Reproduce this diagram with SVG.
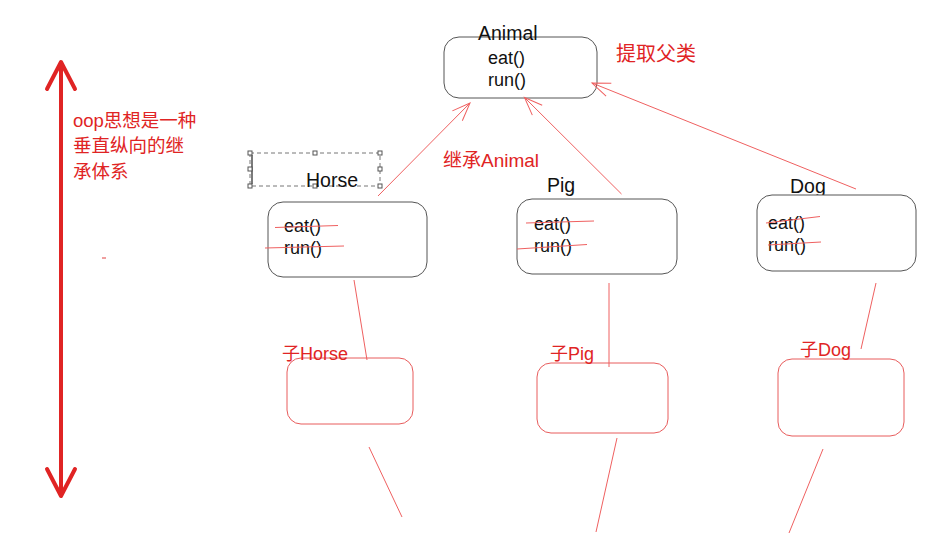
<svg xmlns="http://www.w3.org/2000/svg" width="950" height="555" viewBox="0 0 950 555">
<defs>
<marker id="open" markerUnits="userSpaceOnUse" markerWidth="24" markerHeight="20" refX="0" refY="0" viewBox="-20 -10 24 20" orient="auto" overflow="visible">
<path d="M-18,-7 L0,0 L-18,7" fill="none" stroke="#ef6060" stroke-width="1"/>
</marker>
<marker id="bigarrow" markerUnits="userSpaceOnUse" viewBox="-30 -20 34 40" markerWidth="34" markerHeight="40" refX="0" refY="0" orient="auto-start-reverse" overflow="visible">
<path d="M-27,-14 L0,0 L-27,14" fill="none" stroke="#e02424" stroke-width="4" stroke-linecap="round" stroke-linejoin="round"/>
</marker>
</defs>
<style>
.box{fill:#fff;stroke:#555;stroke-width:1}
.rbox{fill:#fff;stroke:#e85c5c;stroke-width:1}
.t{font-family:"Liberation Sans",Arial,sans-serif;fill:#111}
.title{font-size:19.5px}
.m{font-size:18px}
.r{font-family:"Liberation Sans","Noto Sans CJK SC",sans-serif;fill:#e02424}
.rl{stroke:#ef6060;stroke-width:1;fill:none}
.h{fill:#fff;stroke:#555;stroke-width:1}
</style>
<rect width="950" height="555" fill="#fff"/>

<g id="vertical-arrow">
<line x1="61" y1="62" x2="61" y2="496" stroke="#e02424" stroke-width="4" marker-start="url(#bigarrow)" marker-end="url(#bigarrow)"/>
<text class="r" font-size="18.5" x="73" y="127">oop思想是一种</text>
<text class="r" font-size="18.5" x="73" y="152">垂直纵向的继</text>
<text class="r" font-size="18.5" x="73" y="178">承体系</text>
<line x1="102" y1="258" x2="106" y2="258" stroke="#e04040" stroke-width="1"/>
</g>

<g id="animal">
<rect class="box" x="444" y="37" width="153" height="61" rx="15"/>
<text class="t title" x="478" y="40">Animal</text>
<text class="t m" x="488" y="64">eat()</text>
<text class="t m" x="488" y="86">run()</text>
</g>
<text class="r" font-size="20" x="616" y="61">提取父类</text>
<text class="r" font-size="19" x="443" y="167">继承Animal</text>

<g id="horse">
<rect x="250" y="153" width="130" height="33" fill="none" stroke="#777" stroke-width="1" stroke-dasharray="4 3"/>
<line x1="252" y1="155" x2="252" y2="184" stroke="#333" stroke-width="1.3"/>
<rect class="h" x="248" y="151" width="4" height="4"/>
<rect class="h" x="313" y="151" width="4" height="4"/>
<rect class="h" x="378" y="151" width="4" height="4"/>
<rect class="h" x="248" y="167" width="4" height="4"/>
<rect class="h" x="378" y="167" width="4" height="4"/>
<rect class="h" x="248" y="184" width="4" height="4"/>
<rect class="h" x="313" y="184" width="4" height="4"/>
<rect class="h" x="378" y="184" width="4" height="4"/>
<text class="t title" x="306" y="187">Horse</text>
<rect class="box" x="268" y="202" width="159" height="75" rx="15"/>
<text class="t m" x="284" y="232">eat()</text>
<text class="t m" x="284" y="254">run()</text>
<line class="rl" x1="275" y1="227.5" x2="338" y2="225.5"/>
<line class="rl" x1="265" y1="248" x2="344" y2="246"/>
</g>

<g id="pig">
<text class="t title" x="547" y="192">Pig</text>
<rect class="box" x="517" y="199" width="160" height="75" rx="15"/>
<text class="t m" x="534" y="230">eat()</text>
<text class="t m" x="534" y="252">run()</text>
<line class="rl" x1="526" y1="223" x2="594" y2="221"/>
<line class="rl" x1="517" y1="249" x2="587" y2="244.5"/>
</g>

<g id="dog">
<text class="t title" x="790" y="193">Dog</text>
<rect class="box" x="757" y="195" width="159" height="76" rx="15"/>
<text class="t m" x="768" y="229">eat()</text>
<text class="t m" x="768" y="251">run()</text>
<line class="rl" x1="766" y1="223" x2="820" y2="216.5"/>
<line class="rl" x1="768" y1="245" x2="821" y2="242"/>
</g>

<g id="sub-horse">
<rect class="rbox" x="287" y="358" width="126" height="66" rx="14"/>
<text class="r" font-size="18" x="282" y="360">子Horse</text>
</g>
<g id="sub-pig">
<rect class="rbox" x="537" y="363" width="131" height="70" rx="14"/>
<text class="r" font-size="18" x="550" y="360">子Pig</text>
</g>
<g id="sub-dog">
<rect class="rbox" x="778" y="359" width="126" height="77" rx="14"/>
<text class="r" font-size="18" x="800" y="356">子Dog</text>
</g>

<g id="connectors">
<line class="rl" x1="378" y1="196" x2="470" y2="103" marker-end="url(#open)"/>
<line class="rl" x1="621.5" y1="194" x2="524.5" y2="97.5" marker-end="url(#open)"/>
<line class="rl" x1="856" y1="189" x2="592" y2="83" marker-end="url(#open)"/>
<line class="rl" x1="354" y1="280" x2="367" y2="360"/>
<line class="rl" x1="609" y1="283" x2="609" y2="367"/>
<line class="rl" x1="876" y1="283" x2="861" y2="349"/>
<line class="rl" x1="369" y1="447" x2="402" y2="517"/>
<line class="rl" x1="617" y1="438" x2="596" y2="532"/>
<line class="rl" x1="823" y1="449" x2="789" y2="533"/>
</g>
</svg>
